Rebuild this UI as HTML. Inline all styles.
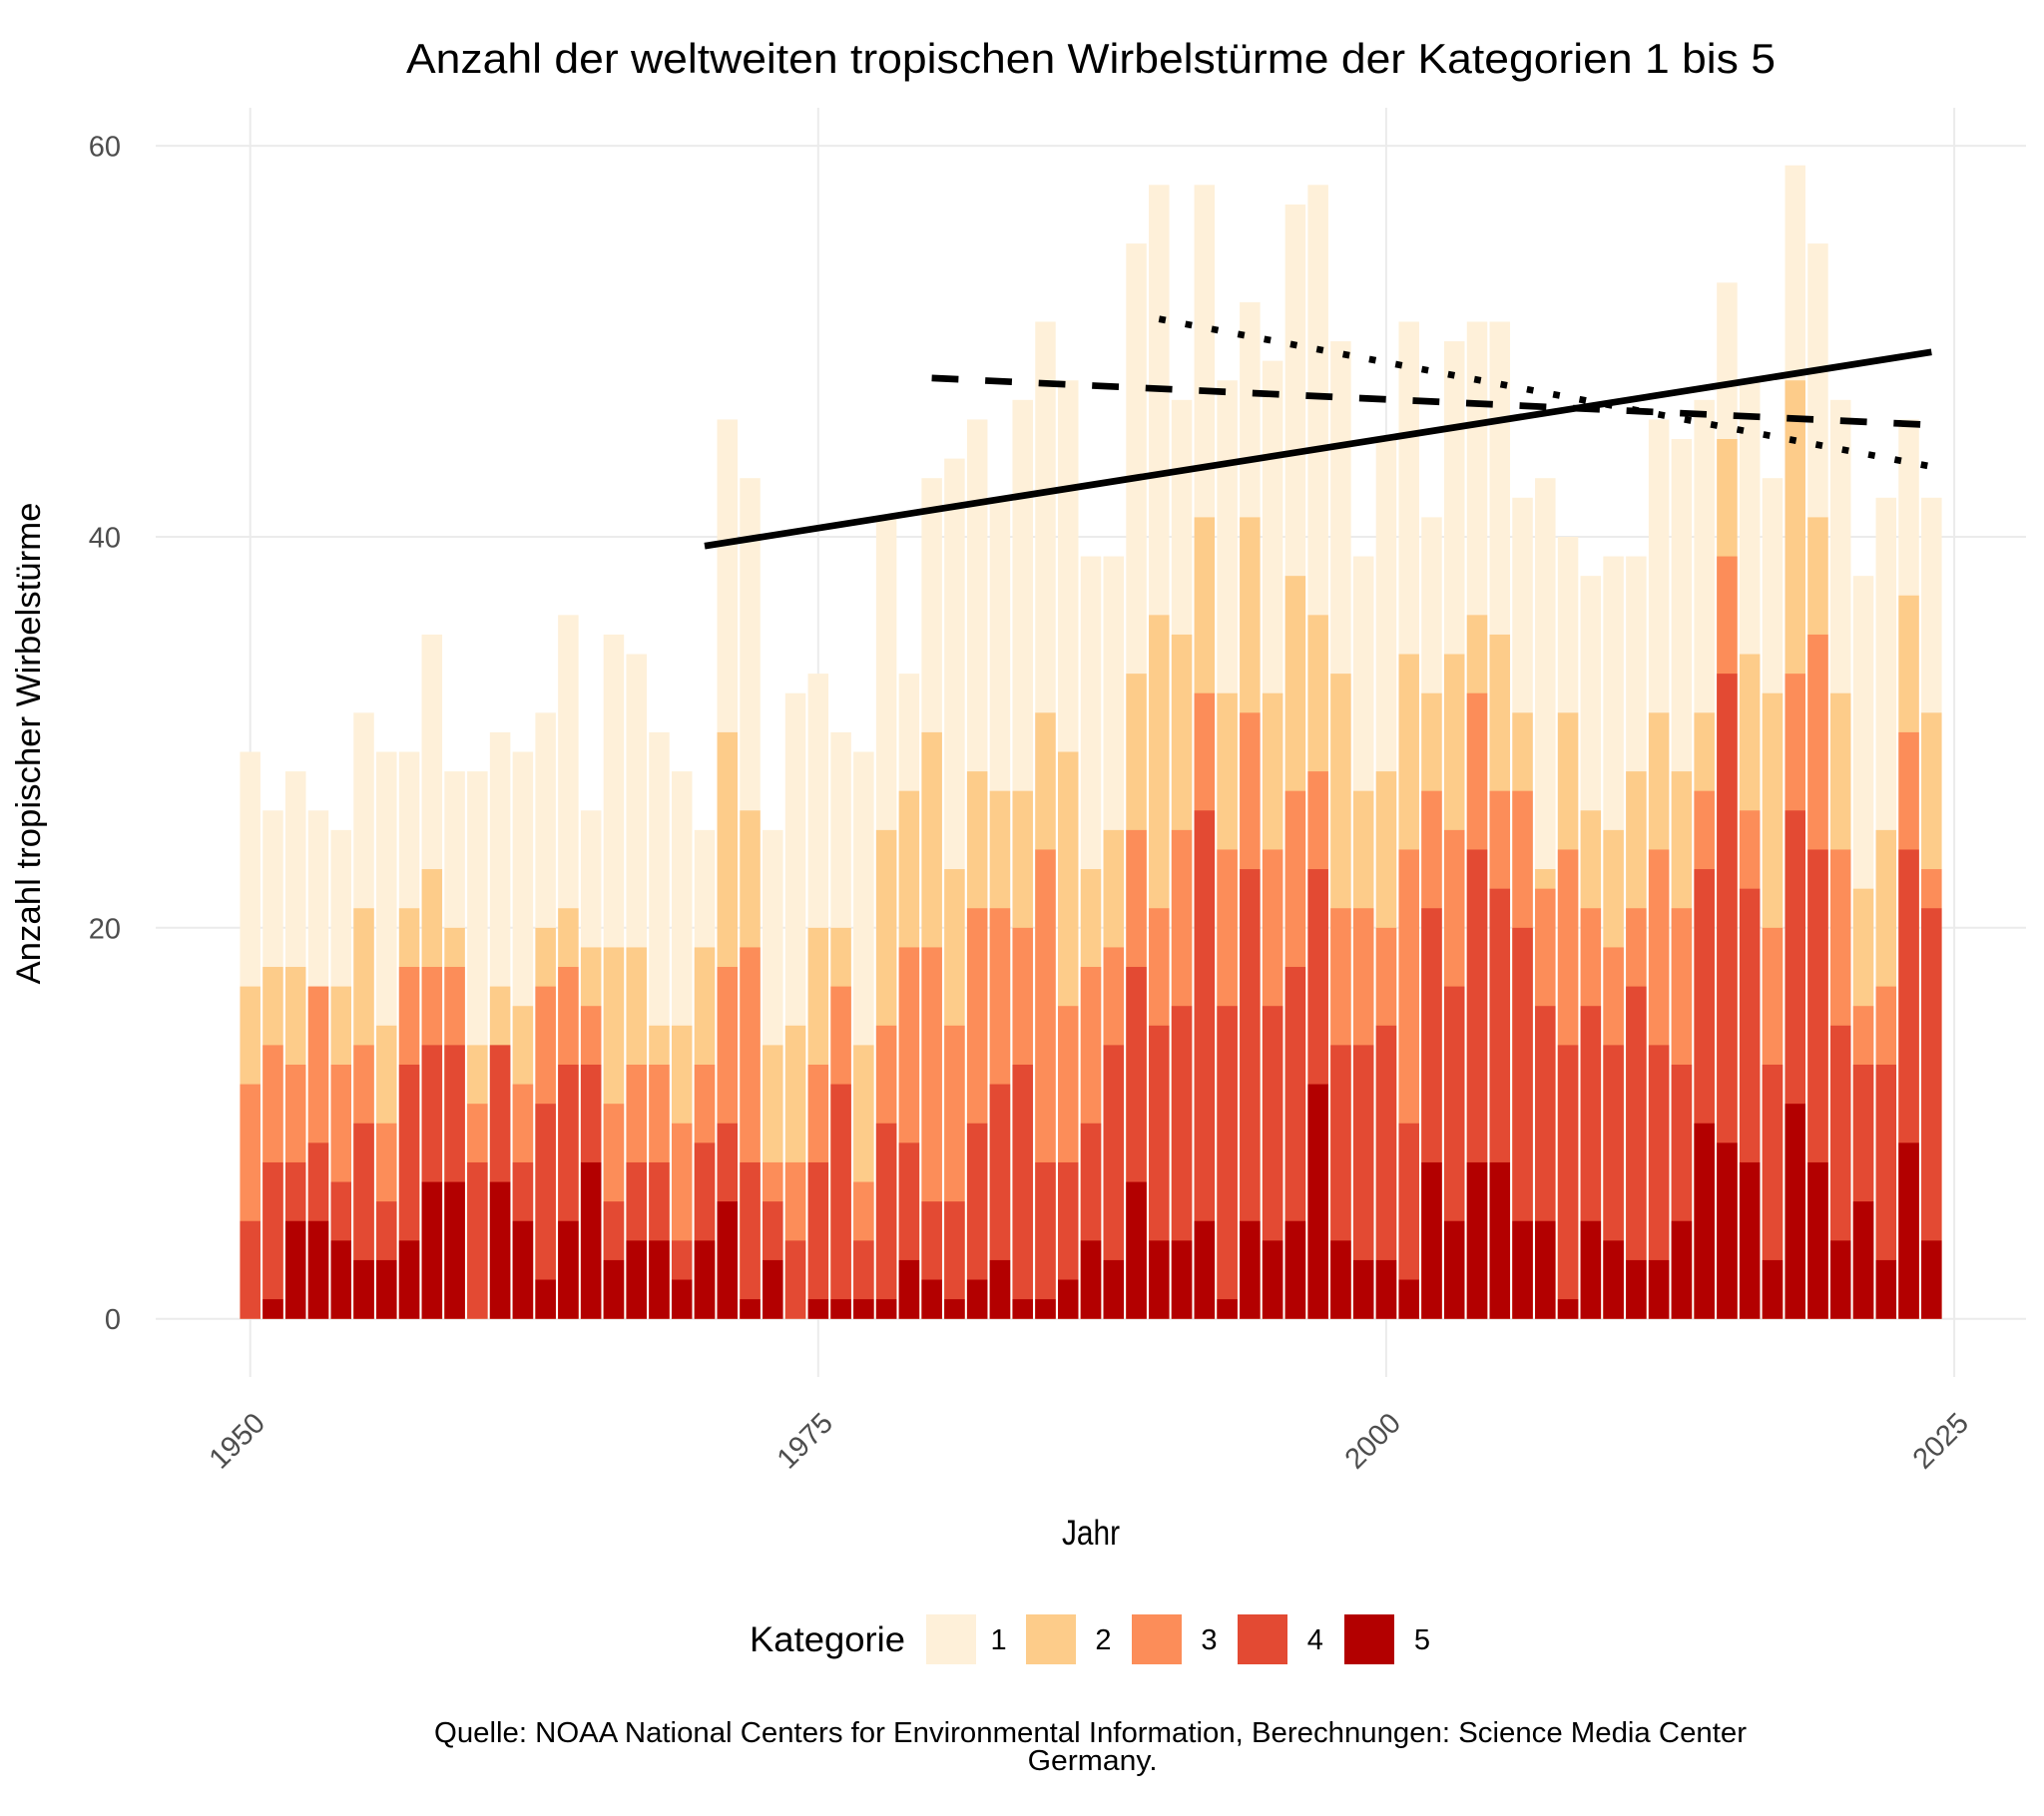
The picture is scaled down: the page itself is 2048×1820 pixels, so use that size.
<!DOCTYPE html>
<html><head><meta charset="utf-8"><style>
html,body{margin:0;padding:0;background:#fff;}
svg{display:block;font-family:"Liberation Sans",sans-serif;}
</style></head><body>
<svg width="2048" height="1820" viewBox="0 0 2048 1820" xmlns="http://www.w3.org/2000/svg">
<rect width="2048" height="1820" fill="#fff"/>
<g stroke="#EBEBEB" stroke-width="2" fill="none">
<line x1="156" y1="1321.7" x2="2030" y2="1321.7"/>
<line x1="156" y1="929.8" x2="2030" y2="929.8"/>
<line x1="156" y1="538" x2="2030" y2="538"/>
<line x1="156" y1="146.1" x2="2030" y2="146.1"/>
<line x1="250.7" y1="108" x2="250.7" y2="1380"/>
<line x1="819.8" y1="108" x2="819.8" y2="1380"/>
<line x1="1388.9" y1="108" x2="1388.9" y2="1380"/>
<line x1="1958.1" y1="108" x2="1958.1" y2="1380"/>
</g>
<g transform="translate(250.7 1321.7) scale(22.765 -19.593)">
<g fill="#FEF0D9">
<rect x="-.45" width=".9" height="29"/><rect x=".55" width=".9" height="26"/><rect x="1.55" width=".9" height="28"/><rect x="2.55" width=".9" height="26"/><rect x="3.55" width=".9" height="25"/><rect x="4.55" width=".9" height="31"/><rect x="5.55" width=".9" height="29"/><rect x="6.55" width=".9" height="29"/><rect x="7.55" width=".9" height="35"/><rect x="8.55" width=".9" height="28"/><rect x="9.55" width=".9" height="28"/><rect x="10.55" width=".9" height="30"/><rect x="11.55" width=".9" height="29"/><rect x="12.55" width=".9" height="31"/><rect x="13.55" width=".9" height="36"/><rect x="14.55" width=".9" height="26"/><rect x="15.55" width=".9" height="35"/><rect x="16.55" width=".9" height="34"/><rect x="17.55" width=".9" height="30"/><rect x="18.55" width=".9" height="28"/><rect x="19.55" width=".9" height="25"/><rect x="20.55" width=".9" height="46"/><rect x="21.55" width=".9" height="43"/><rect x="22.55" width=".9" height="25"/><rect x="23.55" width=".9" height="32"/><rect x="24.55" width=".9" height="33"/><rect x="25.55" width=".9" height="30"/><rect x="26.55" width=".9" height="29"/><rect x="27.55" width=".9" height="41"/><rect x="28.55" width=".9" height="33"/><rect x="29.55" width=".9" height="43"/><rect x="30.55" width=".9" height="44"/><rect x="31.55" width=".9" height="46"/><rect x="32.55" width=".9" height="42"/><rect x="33.55" width=".9" height="47"/><rect x="34.55" width=".9" height="51"/><rect x="35.55" width=".9" height="48"/><rect x="36.55" width=".9" height="39"/><rect x="37.55" width=".9" height="39"/><rect x="38.55" width=".9" height="55"/><rect x="39.55" width=".9" height="58"/><rect x="40.55" width=".9" height="47"/><rect x="41.55" width=".9" height="58"/><rect x="42.55" width=".9" height="48"/><rect x="43.55" width=".9" height="52"/><rect x="44.55" width=".9" height="49"/><rect x="45.55" width=".9" height="57"/><rect x="46.55" width=".9" height="58"/><rect x="47.55" width=".9" height="50"/><rect x="48.55" width=".9" height="39"/><rect x="49.55" width=".9" height="45"/><rect x="50.55" width=".9" height="51"/><rect x="51.55" width=".9" height="41"/><rect x="52.55" width=".9" height="50"/><rect x="53.55" width=".9" height="51"/><rect x="54.55" width=".9" height="51"/><rect x="55.55" width=".9" height="42"/><rect x="56.55" width=".9" height="43"/><rect x="57.55" width=".9" height="40"/><rect x="58.55" width=".9" height="38"/><rect x="59.55" width=".9" height="39"/><rect x="60.55" width=".9" height="39"/><rect x="61.55" width=".9" height="46"/><rect x="62.55" width=".9" height="45"/><rect x="63.55" width=".9" height="47"/><rect x="64.55" width=".9" height="53"/><rect x="65.55" width=".9" height="48"/><rect x="66.55" width=".9" height="43"/><rect x="67.55" width=".9" height="59"/><rect x="68.55" width=".9" height="55"/><rect x="69.55" width=".9" height="47"/><rect x="70.55" width=".9" height="38"/><rect x="71.55" width=".9" height="42"/><rect x="72.55" width=".9" height="46"/><rect x="73.55" width=".9" height="42"/>
</g>
<g fill="#FDCC8A">
<rect x="-.45" width=".9" height="17"/><rect x=".55" width=".9" height="18"/><rect x="1.55" width=".9" height="18"/><rect x="2.55" width=".9" height="17"/><rect x="3.55" width=".9" height="17"/><rect x="4.55" width=".9" height="21"/><rect x="5.55" width=".9" height="15"/><rect x="6.55" width=".9" height="21"/><rect x="7.55" width=".9" height="23"/><rect x="8.55" width=".9" height="20"/><rect x="9.55" width=".9" height="14"/><rect x="10.55" width=".9" height="17"/><rect x="11.55" width=".9" height="16"/><rect x="12.55" width=".9" height="20"/><rect x="13.55" width=".9" height="21"/><rect x="14.55" width=".9" height="19"/><rect x="15.55" width=".9" height="19"/><rect x="16.55" width=".9" height="19"/><rect x="17.55" width=".9" height="15"/><rect x="18.55" width=".9" height="15"/><rect x="19.55" width=".9" height="19"/><rect x="20.55" width=".9" height="30"/><rect x="21.55" width=".9" height="26"/><rect x="22.55" width=".9" height="14"/><rect x="23.55" width=".9" height="15"/><rect x="24.55" width=".9" height="20"/><rect x="25.55" width=".9" height="20"/><rect x="26.55" width=".9" height="14"/><rect x="27.55" width=".9" height="25"/><rect x="28.55" width=".9" height="27"/><rect x="29.55" width=".9" height="30"/><rect x="30.55" width=".9" height="23"/><rect x="31.55" width=".9" height="28"/><rect x="32.55" width=".9" height="27"/><rect x="33.55" width=".9" height="27"/><rect x="34.55" width=".9" height="31"/><rect x="35.55" width=".9" height="29"/><rect x="36.55" width=".9" height="23"/><rect x="37.55" width=".9" height="25"/><rect x="38.55" width=".9" height="33"/><rect x="39.55" width=".9" height="36"/><rect x="40.55" width=".9" height="35"/><rect x="41.55" width=".9" height="41"/><rect x="42.55" width=".9" height="32"/><rect x="43.55" width=".9" height="41"/><rect x="44.55" width=".9" height="32"/><rect x="45.55" width=".9" height="38"/><rect x="46.55" width=".9" height="36"/><rect x="47.55" width=".9" height="33"/><rect x="48.55" width=".9" height="27"/><rect x="49.55" width=".9" height="28"/><rect x="50.55" width=".9" height="34"/><rect x="51.55" width=".9" height="32"/><rect x="52.55" width=".9" height="34"/><rect x="53.55" width=".9" height="36"/><rect x="54.55" width=".9" height="35"/><rect x="55.55" width=".9" height="31"/><rect x="56.55" width=".9" height="23"/><rect x="57.55" width=".9" height="31"/><rect x="58.55" width=".9" height="26"/><rect x="59.55" width=".9" height="25"/><rect x="60.55" width=".9" height="28"/><rect x="61.55" width=".9" height="31"/><rect x="62.55" width=".9" height="28"/><rect x="63.55" width=".9" height="31"/><rect x="64.55" width=".9" height="45"/><rect x="65.55" width=".9" height="34"/><rect x="66.55" width=".9" height="32"/><rect x="67.55" width=".9" height="48"/><rect x="68.55" width=".9" height="41"/><rect x="69.55" width=".9" height="32"/><rect x="70.55" width=".9" height="22"/><rect x="71.55" width=".9" height="25"/><rect x="72.55" width=".9" height="37"/><rect x="73.55" width=".9" height="31"/>
</g>
<g fill="#FC8D59">
<rect x="-.45" width=".9" height="12"/><rect x=".55" width=".9" height="14"/><rect x="1.55" width=".9" height="13"/><rect x="2.55" width=".9" height="17"/><rect x="3.55" width=".9" height="13"/><rect x="4.55" width=".9" height="14"/><rect x="5.55" width=".9" height="10"/><rect x="6.55" width=".9" height="18"/><rect x="7.55" width=".9" height="18"/><rect x="8.55" width=".9" height="18"/><rect x="9.55" width=".9" height="11"/><rect x="10.55" width=".9" height="14"/><rect x="11.55" width=".9" height="12"/><rect x="12.55" width=".9" height="17"/><rect x="13.55" width=".9" height="18"/><rect x="14.55" width=".9" height="16"/><rect x="15.55" width=".9" height="11"/><rect x="16.55" width=".9" height="13"/><rect x="17.55" width=".9" height="13"/><rect x="18.55" width=".9" height="10"/><rect x="19.55" width=".9" height="13"/><rect x="20.55" width=".9" height="18"/><rect x="21.55" width=".9" height="19"/><rect x="22.55" width=".9" height="8"/><rect x="23.55" width=".9" height="8"/><rect x="24.55" width=".9" height="13"/><rect x="25.55" width=".9" height="17"/><rect x="26.55" width=".9" height="7"/><rect x="27.55" width=".9" height="15"/><rect x="28.55" width=".9" height="19"/><rect x="29.55" width=".9" height="19"/><rect x="30.55" width=".9" height="15"/><rect x="31.55" width=".9" height="21"/><rect x="32.55" width=".9" height="21"/><rect x="33.55" width=".9" height="20"/><rect x="34.55" width=".9" height="24"/><rect x="35.55" width=".9" height="16"/><rect x="36.55" width=".9" height="18"/><rect x="37.55" width=".9" height="19"/><rect x="38.55" width=".9" height="25"/><rect x="39.55" width=".9" height="21"/><rect x="40.55" width=".9" height="25"/><rect x="41.55" width=".9" height="32"/><rect x="42.55" width=".9" height="24"/><rect x="43.55" width=".9" height="31"/><rect x="44.55" width=".9" height="24"/><rect x="45.55" width=".9" height="27"/><rect x="46.55" width=".9" height="28"/><rect x="47.55" width=".9" height="21"/><rect x="48.55" width=".9" height="21"/><rect x="49.55" width=".9" height="20"/><rect x="50.55" width=".9" height="24"/><rect x="51.55" width=".9" height="27"/><rect x="52.55" width=".9" height="25"/><rect x="53.55" width=".9" height="32"/><rect x="54.55" width=".9" height="27"/><rect x="55.55" width=".9" height="27"/><rect x="56.55" width=".9" height="22"/><rect x="57.55" width=".9" height="24"/><rect x="58.55" width=".9" height="21"/><rect x="59.55" width=".9" height="19"/><rect x="60.55" width=".9" height="21"/><rect x="61.55" width=".9" height="24"/><rect x="62.55" width=".9" height="21"/><rect x="63.55" width=".9" height="27"/><rect x="64.55" width=".9" height="39"/><rect x="65.55" width=".9" height="26"/><rect x="66.55" width=".9" height="20"/><rect x="67.55" width=".9" height="33"/><rect x="68.55" width=".9" height="35"/><rect x="69.55" width=".9" height="24"/><rect x="70.55" width=".9" height="16"/><rect x="71.55" width=".9" height="17"/><rect x="72.55" width=".9" height="30"/><rect x="73.55" width=".9" height="23"/>
</g>
<g fill="#E34A33">
<rect x="-.45" width=".9" height="5"/><rect x=".55" width=".9" height="8"/><rect x="1.55" width=".9" height="8"/><rect x="2.55" width=".9" height="9"/><rect x="3.55" width=".9" height="7"/><rect x="4.55" width=".9" height="10"/><rect x="5.55" width=".9" height="6"/><rect x="6.55" width=".9" height="13"/><rect x="7.55" width=".9" height="14"/><rect x="8.55" width=".9" height="14"/><rect x="9.55" width=".9" height="8"/><rect x="10.55" width=".9" height="14"/><rect x="11.55" width=".9" height="8"/><rect x="12.55" width=".9" height="11"/><rect x="13.55" width=".9" height="13"/><rect x="14.55" width=".9" height="13"/><rect x="15.55" width=".9" height="6"/><rect x="16.55" width=".9" height="8"/><rect x="17.55" width=".9" height="8"/><rect x="18.55" width=".9" height="4"/><rect x="19.55" width=".9" height="9"/><rect x="20.55" width=".9" height="10"/><rect x="21.55" width=".9" height="8"/><rect x="22.55" width=".9" height="6"/><rect x="23.55" width=".9" height="4"/><rect x="24.55" width=".9" height="8"/><rect x="25.55" width=".9" height="12"/><rect x="26.55" width=".9" height="4"/><rect x="27.55" width=".9" height="10"/><rect x="28.55" width=".9" height="9"/><rect x="29.55" width=".9" height="6"/><rect x="30.55" width=".9" height="6"/><rect x="31.55" width=".9" height="10"/><rect x="32.55" width=".9" height="12"/><rect x="33.55" width=".9" height="13"/><rect x="34.55" width=".9" height="8"/><rect x="35.55" width=".9" height="8"/><rect x="36.55" width=".9" height="10"/><rect x="37.55" width=".9" height="14"/><rect x="38.55" width=".9" height="18"/><rect x="39.55" width=".9" height="15"/><rect x="40.55" width=".9" height="16"/><rect x="41.55" width=".9" height="26"/><rect x="42.55" width=".9" height="16"/><rect x="43.55" width=".9" height="23"/><rect x="44.55" width=".9" height="16"/><rect x="45.55" width=".9" height="18"/><rect x="46.55" width=".9" height="23"/><rect x="47.55" width=".9" height="14"/><rect x="48.55" width=".9" height="14"/><rect x="49.55" width=".9" height="15"/><rect x="50.55" width=".9" height="10"/><rect x="51.55" width=".9" height="21"/><rect x="52.55" width=".9" height="17"/><rect x="53.55" width=".9" height="24"/><rect x="54.55" width=".9" height="22"/><rect x="55.55" width=".9" height="20"/><rect x="56.55" width=".9" height="16"/><rect x="57.55" width=".9" height="14"/><rect x="58.55" width=".9" height="16"/><rect x="59.55" width=".9" height="14"/><rect x="60.55" width=".9" height="17"/><rect x="61.55" width=".9" height="14"/><rect x="62.55" width=".9" height="13"/><rect x="63.55" width=".9" height="23"/><rect x="64.55" width=".9" height="33"/><rect x="65.55" width=".9" height="22"/><rect x="66.55" width=".9" height="13"/><rect x="67.55" width=".9" height="26"/><rect x="68.55" width=".9" height="24"/><rect x="69.55" width=".9" height="15"/><rect x="70.55" width=".9" height="13"/><rect x="71.55" width=".9" height="13"/><rect x="72.55" width=".9" height="24"/><rect x="73.55" width=".9" height="21"/>
</g>
<g fill="#B30000">
<rect x=".55" width=".9" height="1"/><rect x="1.55" width=".9" height="5"/><rect x="2.55" width=".9" height="5"/><rect x="3.55" width=".9" height="4"/><rect x="4.55" width=".9" height="3"/><rect x="5.55" width=".9" height="3"/><rect x="6.55" width=".9" height="4"/><rect x="7.55" width=".9" height="7"/><rect x="8.55" width=".9" height="7"/><rect x="10.55" width=".9" height="7"/><rect x="11.55" width=".9" height="5"/><rect x="12.55" width=".9" height="2"/><rect x="13.55" width=".9" height="5"/><rect x="14.55" width=".9" height="8"/><rect x="15.55" width=".9" height="3"/><rect x="16.55" width=".9" height="4"/><rect x="17.55" width=".9" height="4"/><rect x="18.55" width=".9" height="2"/><rect x="19.55" width=".9" height="4"/><rect x="20.55" width=".9" height="6"/><rect x="21.55" width=".9" height="1"/><rect x="22.55" width=".9" height="3"/><rect x="24.55" width=".9" height="1"/><rect x="25.55" width=".9" height="1"/><rect x="26.55" width=".9" height="1"/><rect x="27.55" width=".9" height="1"/><rect x="28.55" width=".9" height="3"/><rect x="29.55" width=".9" height="2"/><rect x="30.55" width=".9" height="1"/><rect x="31.55" width=".9" height="2"/><rect x="32.55" width=".9" height="3"/><rect x="33.55" width=".9" height="1"/><rect x="34.55" width=".9" height="1"/><rect x="35.55" width=".9" height="2"/><rect x="36.55" width=".9" height="4"/><rect x="37.55" width=".9" height="3"/><rect x="38.55" width=".9" height="7"/><rect x="39.55" width=".9" height="4"/><rect x="40.55" width=".9" height="4"/><rect x="41.55" width=".9" height="5"/><rect x="42.55" width=".9" height="1"/><rect x="43.55" width=".9" height="5"/><rect x="44.55" width=".9" height="4"/><rect x="45.55" width=".9" height="5"/><rect x="46.55" width=".9" height="12"/><rect x="47.55" width=".9" height="4"/><rect x="48.55" width=".9" height="3"/><rect x="49.55" width=".9" height="3"/><rect x="50.55" width=".9" height="2"/><rect x="51.55" width=".9" height="8"/><rect x="52.55" width=".9" height="5"/><rect x="53.55" width=".9" height="8"/><rect x="54.55" width=".9" height="8"/><rect x="55.55" width=".9" height="5"/><rect x="56.55" width=".9" height="5"/><rect x="57.55" width=".9" height="1"/><rect x="58.55" width=".9" height="5"/><rect x="59.55" width=".9" height="4"/><rect x="60.55" width=".9" height="3"/><rect x="61.55" width=".9" height="3"/><rect x="62.55" width=".9" height="5"/><rect x="63.55" width=".9" height="10"/><rect x="64.55" width=".9" height="9"/><rect x="65.55" width=".9" height="8"/><rect x="66.55" width=".9" height="3"/><rect x="67.55" width=".9" height="11"/><rect x="68.55" width=".9" height="8"/><rect x="69.55" width=".9" height="4"/><rect x="70.55" width=".9" height="6"/><rect x="71.55" width=".9" height="3"/><rect x="72.55" width=".9" height="9"/><rect x="73.55" width=".9" height="4"/>
</g>
</g>
<g stroke="#000" stroke-width="6.7" fill="none" stroke-linecap="butt">
<line x1="706" y1="547.2" x2="1935.3" y2="352.8"/>
<line x1="933.6" y1="378.9" x2="1935.3" y2="425.9" stroke-dasharray="26.8 26.8"/>
<line x1="1161.3" y1="319.7" x2="1935.3" y2="467.6" stroke-dasharray="6.7 20.1"/>
</g>
<text x="1093" y="73" font-size="42" text-anchor="middle" textLength="1372" lengthAdjust="spacingAndGlyphs" fill="#000">Anzahl der weltweiten tropischen Wirbelstürme der Kategorien 1 bis 5</text>
<g font-size="29" fill="#4D4D4D" text-anchor="end">
<text x="121" y="156.5">60</text>
<text x="121" y="948.3" dy="-8">20</text>
<text x="121" y="556.5" dy="-8">40</text>
<text x="121" y="1332">0</text>
</g>
<g font-size="29" fill="#4D4D4D" text-anchor="end">
<text x="267" y="1428" transform="rotate(-45 267 1428)">1950</text>
<text x="836" y="1428" transform="rotate(-45 836 1428)">1975</text>
<text x="1405" y="1428" transform="rotate(-45 1405 1428)">2000</text>
<text x="1974" y="1428" transform="rotate(-45 1974 1428)">2025</text>
</g>
<text x="1093" y="1548" font-size="35" text-anchor="middle" fill="#000" textLength="58" lengthAdjust="spacingAndGlyphs">Jahr</text>
<text transform="translate(40 745) rotate(-90)" font-size="34" text-anchor="middle" fill="#000" textLength="483" lengthAdjust="spacingAndGlyphs">Anzahl tropischer Wirbelstürme</text>
<text x="751" y="1655" font-size="35" fill="#000" textLength="156" lengthAdjust="spacingAndGlyphs">Kategorie</text>
<rect x="928" y="1618" width="50" height="50" fill="#FEF0D9"/>
<rect x="1028" y="1618" width="50" height="50" fill="#FDCC8A"/>
<rect x="1134" y="1618" width="50" height="50" fill="#FC8D59"/>
<rect x="1240" y="1618" width="50" height="50" fill="#E34A33"/>
<rect x="1347" y="1618" width="50" height="50" fill="#B30000"/>
<g font-size="29" fill="#000" text-anchor="middle">
<text x="1000.6" y="1653">1</text>
<text x="1105.5" y="1653">2</text>
<text x="1211.5" y="1653">3</text>
<text x="1317.8" y="1653">4</text>
<text x="1425" y="1653">5</text>
</g>
<text x="1092.5" y="1746" font-size="29" text-anchor="middle" fill="#000" textLength="1315" lengthAdjust="spacingAndGlyphs">Quelle: NOAA National Centers for Environmental Information, Berechnungen: Science Media Center</text>
<text x="1094.6" y="1774" font-size="29" text-anchor="middle" fill="#000" textLength="130" lengthAdjust="spacingAndGlyphs">Germany.</text>
</svg>
</body></html>
